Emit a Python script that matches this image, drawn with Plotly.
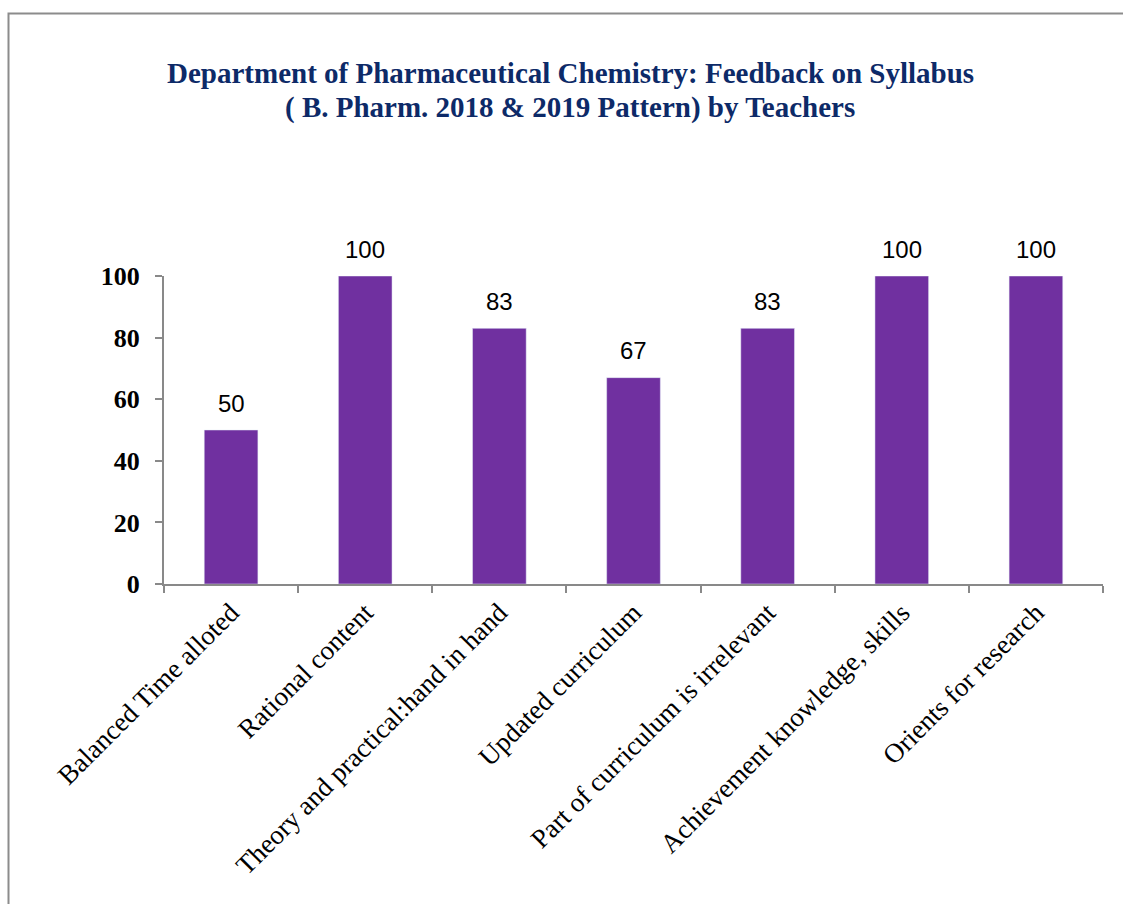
import plotly.graph_objects as go

categories = ["Balanced Time alloted", "Rational content", "Theory and practical:hand in hand",
              "Updated curriculum", "Part of curriculum is irrelevant",
              "Achievement knowledge, skills", "Orients for research"]
values = [50, 100, 83, 67, 83, 100, 100]
labels = ["50", "100", "83", "67", "83", "100", "100"]
ytick_vals = [0, 20, 40, 60, 80, 100]
title_lines = ["Department of Pharmaceutical Chemistry: Feedback on Syllabus",
               "( B. Pharm. 2018 &amp; 2019 Pattern) by Teachers"]

W, H = 1123, 904
L, R, T, B = 164, 20, 276, 320
pw = W - L - R
ph = H - T - B

def px(x):
    return (x - L) / pw

def py(y):
    return (H - B - y) / ph

fig = go.Figure()
fig.add_trace(go.Bar(
    x=categories, y=values, marker_color="#7030A0", width=0.4,
))

annotations = []
for c, v, t in zip(categories, values, labels):
    annotations.append(dict(
        x=c, y=v, xref="x", yref="y", text=t, showarrow=False,
        yanchor="middle", xanchor="center", yshift=27,
        font=dict(family="Liberation Sans", size=24, color="#000000"),
    ))
for i, line in enumerate(title_lines):
    annotations.append(dict(
        xref="paper", yref="paper", x=px(570), y=py(73 + 34 * i),
        xanchor="center", yanchor="middle",
        text="<b>" + line + "</b>", showarrow=False,
        font=dict(family="Liberation Serif", size=29, color="#0D2A68"),
    ))

fig.update_layout(
    width=W, height=H,
    margin=dict(l=L, r=R, t=T, b=B),
    paper_bgcolor="white", plot_bgcolor="white",
    showlegend=False,
    xaxis=dict(
        showline=True, linecolor="#898989", linewidth=2,
        ticks="outside", tickson="boundaries", ticklen=7, tickcolor="#898989", tickwidth=2,
        tickangle=-45,
        tickfont=dict(family="Liberation Serif", size=27, color="#000000"),
        showgrid=False,
    ),
    yaxis=dict(
        range=[0, 100], tickvals=ytick_vals,
        showline=True, linecolor="#898989", linewidth=2,
        ticks="outside", ticklen=7, tickcolor="#898989", tickwidth=2,
        ticklabelstandoff=10,
        tickfont=dict(family="Liberation Serif", size=26, color="#000000", weight="bold"),
        showgrid=False, zeroline=False,
    ),
    shapes=[dict(type="rect", xref="paper", yref="paper",
                 x0=px(8.5), x1=px(1200), y0=py(1000), y1=py(13.5),
                 line=dict(color="#8C8C8C", width=2), layer="below")],
    annotations=annotations,
    bargap=0.6,
)

fig.write_html("out.html", config={"displayModeBar": False},
               post_script="document.body.style.margin='0';")
